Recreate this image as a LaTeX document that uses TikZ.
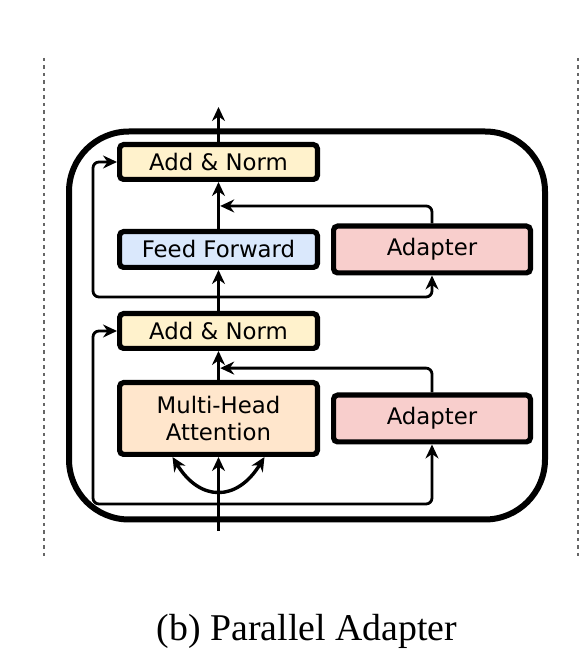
\documentclass[tikz,border=0pt]{standalone}
\usepackage{fontspec}
\setmainfont{Liberation Serif}
\newfontfamily\boxfont{DejaVu Sans}
\usepackage{xcolor}
\usepackage{tikz}
\usetikzlibrary{positioning, arrows.meta, calc}

\definecolor{normcol}{HTML}{FFF2CC}
\definecolor{ffcol}{HTML}{DAE8FC}
\definecolor{adcol}{HTML}{F8CECC}
\definecolor{mhacol}{HTML}{FFE6CC}

\begin{document}
\begin{tikzpicture}[
    x=0.5pt, y=0.5pt,
    >={Stealth[length=7pt, width=6.5pt]},
    boxnode/.style={rectangle, draw=black, line width=2.6pt, rounded corners=2pt, inner sep=0pt, minimum width=98.9pt, align=center, font=\boxfont\fontsize{11.4}{13.5}\selectfont},
    adnode/.style={boxnode, fill=adcol, minimum width=98.4pt, minimum height=23.4pt},
    mainline/.style={line width=1.7pt, ->},
    resline/.style={line width=1.4pt, rounded corners=3pt},
    dashline/.style={draw=black!60, line width=0.7pt, dash pattern=on 1.75pt off 2pt},
]
\useasboundingbox (0,0) rectangle (586,665);
\draw[dashline] (44,607) -- (44,109);
\draw[dashline] (578,607) -- (578,109);
\node[draw=black, line width=3pt, rounded corners=30pt, inner sep=0pt, minimum width=238pt, minimum height=194pt](block) at (307,339.5){};
\node[boxnode, fill=mhacol, minimum height=35.9pt](mha) at (218.5,246.5){Multi-Head\\Attention};
\node[boxnode, fill=normcol, minimum height=17.4pt](an1)[above = 14.5pt of mha]{Add \& Norm};
\node[boxnode, fill=ffcol, minimum height=17.9pt](ff)[above = 20.5pt of an1]{Feed Forward};
\node[boxnode, fill=normcol, minimum height=17.4pt](an2)[above = 23.5pt of ff]{Add \& Norm};
\node[adnode](ada1)[right = 5.5pt of mha]{Adapter};
\node[adnode](ada2)[right = 5.5pt of ff]{Adapter};
\coordinate (in) at (218.5,134);
\coordinate (out) at (218.5,558);
\coordinate (res1) at (93,161);
\coordinate (res2) at (93,368);
\coordinate (j1) at ($(mha.north)!0.41!(an1.south)$);
\coordinate (j2) at ($(ff.north)!0.49!(an2.south)$);
% main path
\draw[mainline] (in) -- (mha.south);
\draw[mainline, <->] ($(mha.south)+(-46,0)$) .. controls ($(mha.south)+(-18.5,-45)$) and ($(mha.south)+(18.5,-45)$) .. ($(mha.south)+(46,0)$);
\draw[mainline] (mha.north) -- (an1.south);
\draw[mainline] (an1.north) -- (ff.south);
\draw[mainline] (ff.north) -- (an2.south);
\draw[mainline] (an2.north) -- (out);
% residual and adapter branches
\draw[resline, <->] (an1.west) -| (res1) -| (ada1.south);
\draw[resline, ->] (ada1.north) |- ([xshift=0.85pt]j1);
\draw[resline, <->] (an2.west) -| (res2) -| (ada2.south);
\draw[resline, ->] (ada2.north) |- ([xshift=0.85pt]j2);
\node[anchor=base, font=\fontsize{18.9}{22}\selectfont](cap) at (307,24.3){(b) Parallel Adapter};
\end{tikzpicture}
\end{document}
